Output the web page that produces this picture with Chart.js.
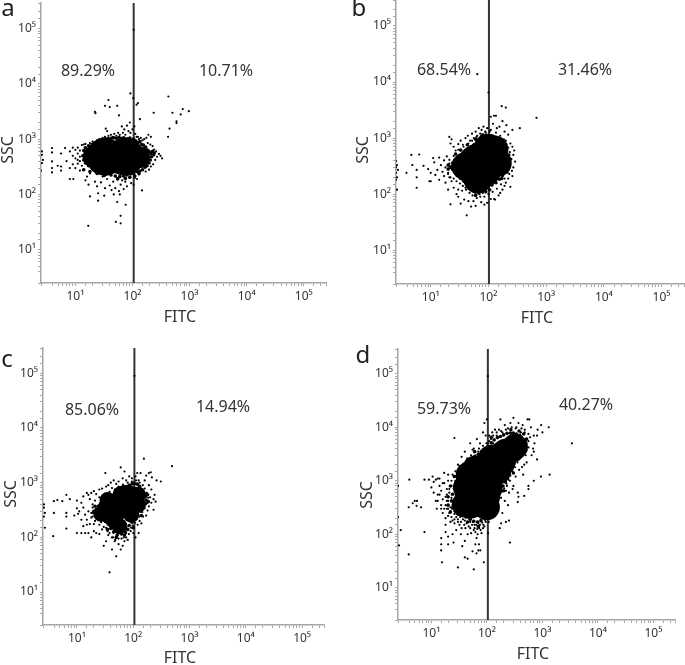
<!DOCTYPE html>
<html><head><meta charset="utf-8">
<script src="https://cdn.jsdelivr.net/npm/chart.js@4"></script>
<style>
html,body{margin:0;padding:0;background:#fff;width:685px;height:665px;overflow:hidden}
canvas{position:absolute;filter:blur(0.35px)}
</style></head><body>
<script>
const panelLetters = ['a','b','c','d'];
const negativeLabels = ['89.29%','68.54%','85.06%','59.73%'];
const positiveLabels = ['10.71%','31.46%','14.94%','40.27%'];
const xAxisTitle = 'FITC', yAxisTitle = 'SSC';
const decadeLabels = {1:'10¹',2:'10²',3:'10³',4:'10⁴',5:'10⁵'};
const axisRange = {xMin:2.5,xMax:245000,yMin:2.5,yMax:290000};
const gateValues = [105,102,105,104];

const denseLargeA = [[33,480],[74,480]];
const denseSmallA = [[21,480],[130,470]];
const edgeA = [[14,620],[15,700],[17,760],[20,800],[23,860],[26,900],[29,950],[33,1000],[37,1020],[42,1040],[47,1060],[52,1040],[58,1080],[64,1030],[70,1060],[76,1000],[83,1010],[90,1050],[97,950],[105,1000],[115,920],[125,860],[135,900],[145,800],[155,780],[170,720],[180,640],[195,600],[210,550],[215,480],[205,420],[195,370],[180,330],[165,310],[150,280],[135,265],[120,260],[105,240],[92,235],[80,225],[70,215],[60,210],[50,215],[42,225],[35,235],[30,260],[25,280],[21,290],[17,330],[15,370],[14,420],[13.5,500],[14,280],[18,260],[24,240],[32,220],[55,190],[75,195],[90,205],[110,215],[130,240],[225,600],[235,520],[240,560]];
const scatterA = [[105,95000],[92,6700],[103,5500],[125,4500],[118,4200],[425,5900],[38,5100],[33,4000],[54,4000],[40,3800],[22,3100],[22.5,2950],[58,2700],[235,3000],[500,3000],[590,2100],[590,1950],[760,3500],[700,2800],[970,3200],[445,1550],[420,1100],[135,2300],[34,1550],
[2.6,600],[2.6,520],[2.7,420],[2.6,370],[2.5,270],[3.9,690],[3.9,575],[3.9,395],[3.9,300],[3.9,250],[4.9,330],[5.6,550],[5.6,320],[5.6,270],[6.6,690],[8,190],[9.2,190],
[16.8,27],[51,32],[62,30],[62,41],[76,65],[54,73],[25,77],[147,118],[18,92],
[14,800],[15,820],[18,850],[20,900],[24,950],[26,1000],[30,1050],[33,1100],[36,1400],[38,1150],[42,1200],[45,1100],[48,1250],[52,1150],[56,1300],[60,1200],[65,1700],[68,1300],[72,1500],[75,1200],[80,1750],[85,1400],[90,2000],[92,1300],[100,1500],[108,1700],[112,1250],[118,1100],[125,1100],[130,1000],[140,1050],[150,950],[160,1000],[175,1050],[190,1200],[210,1100],[185,850],[205,800],[225,750],[240,650],[260,600],[290,540],[310,500],[330,450],[270,480],[250,420],[230,350],[210,320],[195,280],[170,260],
[22,170],[24,140],[28,165],[30,210],[33,130],[36,190],[40,145],[43,120],[46,170],[50,130],[54,200],[58,115],[62,150],[66,180],[70,125],[75,170],[80,140],[88,200],[95,160],[105,150],[110,200],[120,190],[130,230],[18,240],[15,180],[16,210],[17,150],[25,105],[32,95],[47,100],[60,100],
[7,400],[8,600],[8,300],[9,500],[9,700],[9,350],[10,450],[10,300],[10,640],[11,420],[11,550],[11,360],[11,700],[12,480],[12,270],[12,620],[12,400],[13,330],[13,780]];

const denseLargeB = [[70,314]];
const denseSmallB = [[127,625],[145,360],[40,314],[65,181],[97,670]];
const edgeB = [[23,310],[24,360],[26,400],[29,440],[32,470],[36,520],[40,600],[45,640],[50,700],[56,760],[62,800],[70,860],[78,900],[86,1000],[95,1050],[105,1100],[115,1100],[125,1050],[135,1000],[150,950],[165,850],[180,760],[195,640],[205,540],[210,450],[205,380],[200,310],[190,250],[175,215],[155,185],[135,160],[115,145],[95,130],[80,115],[68,105],[58,110],[50,125],[44,145],[38,170],[33,190],[29,215],[26,245],[24,275],[22,300],[20,330],[20,280],[27,520],[33,610],[43,760],[60,950],[80,1150],[225,500],[230,400],[220,300],[170,190],[105,120],[90,110],[60,95]];
const scatterB = [[64,13800],[100,6500],[21,1050],[23,950],[22,800],[25,700],[27,600],[30,780],[33,900],[36,760],[40,1000],[44,1100],[48,900],[52,1200],[56,1000],[60,1300],[64,1100],[68,1500],[72,1200],[76,1400],[82,1600],[88,1300],[95,1500],[105,1300],[110,2400],[125,2500],[135,2500],[120,1800],[140,1500],[155,1600],[175,2000],[190,1300],[205,1700],[220,1150],[260,1400],[350,1500],[680,2300],[170,3700],[200,3500],
[200,900],[240,800],[260,700],[280,600],[270,500],[250,420],[290,380],[270,300],[255,260],[230,230],[260,210],[220,190],[200,160],[190,140],[240,135],[175,120],[160,105],
[150,95],[125,82],[110,82],[130,80],[95,70],[85,65],[75,72],[60,62],[55,75],[50,60],[42,42],[45,75],[38,80],[33,68],[30,90],[22,66],[28,100],[25,130],[20,120],[30,120],[35,115],[40,130],[55,110],[70,100],[80,105],
[2.5,390],[2.6,330],[2.5,300],[2.7,270],[2.5,240],[2.6,200],[2.5,180],[2.6,120],[3.8,240],[4.6,500],[4.8,330],[6.3,510],[7.5,320],[5.7,270],[5.7,200],[5.7,130],[9,280],[9.5,170],[10,240],[10,170],[11,440],[11.5,370],[12,220],[13,270],[14,450],[14,180],[15,330],[16,250],[17,400],[17,210],[18,300],[18,160],[19,470],[20,240],[21,350],[21,200],[23,170],
[20,230],[22,200],[25,190],[28,170],[32,155],[36,140],[41,120],[47,105],[53,95],[63,85],[72,90],[85,90],[100,100],[118,110],[140,125],[165,150],[190,190],[215,240],[235,320],[240,430],[235,560],[220,680],[205,780],[185,950],[160,1100],[135,1250],[110,1400],[90,1250],[75,1100],[62,1050],[52,900],[45,800],[37,700],[30,620],[25,480],[21,410]];

const denseLargeC = [[47,345],[86,490]];
const denseSmallC = [[32,345],[122,600],[70,645],[57,160],[47,197],[92,260],[122,398],[27,270],[38,240],[35,480],[60,620]];
const edgeC = [[22,320],[24,370],[27,420],[31,470],[35,530],[40,570],[46,620],[52,680],[60,750],[68,800],[76,850],[85,900],[95,950],[105,960],[118,940],[130,860],[142,750],[155,640],[165,560],[170,480],[165,410],[150,350],[135,300],[120,260],[105,220],[95,190],[85,165],[80,140],[72,125],[62,115],[52,110],[45,125],[40,145],[36,175],[32,200],[28,235],[25,260],[23,290],[20,300],[21,370],[180,600],[185,450],[140,250],[100,150],[70,110],[50,100],[35,140]];
const scatterC = [[105,90000],[16,600],[18,650],[20,700],[22,620],[25,750],[28,780],[32,1500],[33,850],[36,900],[40,1000],[42,800],[45,1100],[50,950],[55,1050],[60,1900],[65,1200],[70,1600],[75,1100],[85,1300],[95,1200],[100,1000],[110,1300],[118,1500],[125,1100],[135,1500],[155,2750],[160,1100],[170,1350],[190,1500],[205,1550],[215,1250],[260,1100],[310,1050],[490,2000],
[190,900],[210,750],[240,600],[200,540],[230,500],[250,450],[210,430],[190,370],[230,320],[180,310],[170,250],[150,240],[140,180],[130,200],[120,170],
[125,120],[110,100],[100,120],[90,130],[80,90],[75,100],[70,85],[65,70],[60,60],[55,75],[50,45],[42,60],[38,23],[48,90],[44,100],[36,110],[33,85],[30,70],[35,130],[28,140],[25,115],[22,120],[20,130],[18,100],[16,120],[14,120],[12,120],[13,160],[15,170],[17,175],[20,175],[25,170],[10,120],
[2.6,400],[2.6,350],[2.7,280],[2.6,240],[2.7,150],[3.9,280],[3.8,105],[4.5,480],[3.9,460],[5.5,460],[6.5,600],[7.5,500],[6.5,280],[6.5,240],[6.5,145],[9,250],[10,470],[10,340],[10.5,270],[11,300],[12,210],[12,430],[13,560],[13,350],[14,260],[15,650],[15,210],[16,300],[17,500],[18,230],[19,400],[19,280],[21,200],[22,320],
[19,240],[23,250],[27,190],[30,155],[33,150],[38,120],[42,100],[47,85],[55,95],[62,95],[68,100],[75,120],[84,115],[92,150],[98,165],[108,185],[115,215],[128,240],[145,290],[160,340],[175,420],[185,530],[175,650],[160,780],[148,900],[130,1000],[112,1100],[95,1050],[80,1000],[66,920],[55,850],[47,750],[38,680],[30,600],[25,540],[21,470],[19,350],[18,280]];

const denseLargeD = [[68,571]];
const denseSmallD = [[47,1295],[99,1905],[170,2930],[280,3790],[156,1470],[112,740],[120,2700],[215,3500],[320,4300],[62,1700],[190,2200],[100,320],[50,340],[40,360],[42,750]];
const edgeD = [[24,310],[23,420],[24,560],[26,720],[28,900],[30,1100],[34,1400],[39,1700],[45,2000],[52,2400],[60,2800],[70,3100],[80,3500],[92,3900],[105,4400],[120,5100],[135,5800],[155,6400],[175,6700],[200,7200],[230,7700],[265,7800],[300,7800],[340,7500],[390,7100],[420,6300],[440,5400],[430,4500],[400,3700],[370,3100],[340,2500],[310,2100],[280,1700],[255,1400],[235,1150],[215,950],[195,800],[175,650],[155,520],[140,430],[125,350],[112,280],[100,230],[90,200],[78,180],[68,170],[58,175],[50,190],[42,210],[36,225],[30,240],[27,270],[22,260],[20,350],[20,500],[22,800],[26,1200],[500,5000],[520,6000],[460,7500],[380,8500],[270,9000],[120,6500],[60,3500],[300,1400],[200,650],[130,280],[70,140],[45,170]];
const scatterD = [[104,90000],[20,1000],[24,1300],[28,1200],[30,2000],[26,6300],[32,1600],[35,2800],[37,1400],[40,3500],[42,2000],[45,2600],[48,2300],[50,5000],[55,3800],[58,4000],[62,3000],[66,6000],[70,3500],[75,5000],[80,3500],[85,8000],[90,12000],[92,4000],[95,7000],[100,14000],[105,5000],[110,7000],[118,6000],[125,8000],[130,5000],[140,9000],[150,7000],[165,9000],[175,14000],[190,8000],[210,11000],[240,9500],[265,12000],[300,15000],[330,9500],[370,12000],[410,8000],[440,11000],[480,9000],[540,14000],[580,14000],[620,10000],[700,7000],[800,7000],[820,9000],[950,11000],[1000,8000],[1300,10000],[3400,5000],
[720,5000],[680,4000],[640,3000],[700,3500],[560,4200],[500,3000],[470,2000],[520,2200],[430,1800],[380,1600],[450,1300],[330,1200],[260,1000],[300,800],[230,800],[360,600],[370,500],[360,400],[290,700],[250,600],[220,650],[180,480],[210,420],[160,420],[140,280],[240,350],[190,250],[250,180],[220,170],[180,160],[170,130],[260,70],[940,1200],[1350,1300],[800,2500],[700,1000],[560,800],[560,700],[470,520],
[130,260],[120,200],[110,220],[105,105],[95,170],[90,140],[85,130],[80,105],[75,150],[72,65],[68,100],[65,85],[62,65],[58,120],[55,48],[58,22],[50,170],[45,35],[40,37],[45,100],[40,75],[35,130],[30,24],[36,60],[34,100],[30,170],[28,120],[25,70],[24,100],[20,90],[20,65],[18,110],[15,85],[15,65],[15,50],[15.5,30],[88,30],[76,50],[70,50],[65,44],[18,150],[22,170],[26,190],[33,210],[40,180],[48,200],[60,150],
[2.5,800],[2.5,210],[2.8,120],[2.6,62],[3.9,42],[4,1050],[3.9,320],[5,420],[4.6,380],[5.5,420],[5.4,340],[6.5,320],[7.5,1050],[7.5,110],[9,1050],[10.5,1200],[11,950],[10,750],[12,1050],[13,1100],[12,420],[12.5,300],[13,550],[14,800],[15,650],[15,350],[16,250],[17,1400],[17,900],[18,500],[18,200],[19,700],[19,300],[20,420],[21,600],[22,270],[23,480],[24,350],[25,800],[26,240],[20,220],[27,1000],[28,600],
[17,300],[18,350],[19,420],[20,300],[21,250],[22,320],[23,210],[24,180],[26,160],[28,210],[30,190],[32,150],[34,170],[37,190],[39,150],[41,130],[43,160],[47,140],[50,130],[52,105],[54,150],[56,170],[60,130],[62,110],[64,150],[67,125],[70,160],[73,130],[77,120],[82,165],[86,150],[92,185],[98,205],[103,195],[108,170],[115,240],[128,300],[138,340],[148,400],[158,470],[168,560],[185,620],[205,720],[225,880],[245,1050],[265,1250],[290,1500],[320,1800],[355,2200],[390,2800],[415,3400],[460,4000],[480,4700],[520,3700],[560,5500],[600,6500],[560,7500],[480,8000],[420,9500],[340,10000],[280,10000],[220,9000],[180,8500],[150,8000],[130,7000],[110,5500],[98,5000],[85,4500],[72,4000],[62,3500],[52,3000],[44,2600],[38,2100],[32,1900],[27,1500],[23,1000],[21,700],[19,550],[16,450],[15,300],[14,550],[13,420],[11,600],[16,900],[20,1300],[14,1100]];

const panels = [
 {large:denseLargeA,small:denseSmallA,edge:edgeA,scatter:scatterA,rL:19,rS:11,
  box:{l:0,t:0,w:340,h:332},area:{l:41,t:3,r:326,b:283},xT:[180,317],yT:[8,150],
  letter:[8,9],neg:[88,71],pos:[226,71]},
 {large:denseLargeB,small:denseSmallB,edge:edgeB,scatter:scatterB,rL:23,rS:14,
  box:{l:345,t:0,w:340,h:332},area:{l:396,t:0,r:684,b:284},xT:[537,318],yT:[363,150],
  letter:[359,9],neg:[444,70],pos:[585,70]},
 {large:denseLargeC,small:denseSmallC,edge:edgeC,scatter:scatterC,rL:14,rS:8,
  box:{l:0,t:335,w:340,h:330},area:{l:43,t:348,r:324,b:625},xT:[180,658],yT:[11,494],
  letter:[7,360],neg:[92,410],pos:[223,407]},
 {large:denseLargeD,small:denseSmallD,edge:edgeD,scatter:scatterD,rL:23,rS:13,
  box:{l:345,t:335,w:340,h:330},area:{l:398,t:349,r:675,b:620},xT:[533,654],yT:[367,495],
  letter:[363,356],neg:[444,409],pos:[586,405]}
];

const textInk = '#333', axisInk = '#a6a6a6', fontFamily = '"Noto Sans", sans-serif';

function tickText(v){
  const e = Math.round(Math.log10(v));
  return Math.abs(Math.pow(10,e)-v) < 1e-6*v && decadeLabels[e] ? decadeLabels[e] : '';
}
function shiftTitle(scale, tx, ty, horizontal){
  if(scale._titleShifted) return;
  scale._titleShifted = true;
  const orig = scale.drawTitle;
  scale.drawTitle = function(){
    const c = this.ctx;
    const lh = this.options.title.font.size*1.2;
    const dx = horizontal ? tx-(this.left+this.right)/2 : tx-(this.left+lh/2);
    const dy = horizontal ? ty-(this.bottom-lh/2) : ty-(this.top+this.bottom)/2;
    c.save(); c.translate(dx,dy); orig.call(this); c.restore();
  };
}
const pctLabels = {
  id:'pctLabels',
  afterDraw(chart,args,o){
    const c = chart.ctx;
    c.save();
    c.fillStyle = textInk; c.textAlign='center'; c.textBaseline='middle';
    c.font = '16px '+fontFamily;
    c.fillText(o.neg,o.negAt[0],o.negAt[1]);
    c.fillText(o.pos,o.posAt[0],o.posAt[1]);
    c.fillStyle = '#222';
    c.font = '24px '+fontFamily;
    c.fillText(o.letter,o.letterAt[0],o.letterAt[1]);
    c.restore();
  }
};
panels.forEach((p,i)=>{
  const cv = document.createElement('canvas');
  cv.width = p.box.w; cv.height = p.box.h;
  cv.style.left = p.box.l+'px'; cv.style.top = p.box.t+'px';
  document.body.appendChild(cv);
  const yW = p.area.l-p.box.l, xH = p.box.t+p.box.h-p.area.b;
  const toPt = a => a.map(d=>({x:d[0],y:d[1]}));
  const markSet = (label,arr,r)=>({label,data:toPt(arr),pointRadius:r,pointBorderWidth:0,pointBackgroundColor:'#000',showLine:false,order:1});
  new Chart(cv,{
    type:'scatter',
    data:{datasets:[
      {label:'Gate',data:[{x:gateValues[i],y:axisRange.yMin},{x:gateValues[i],y:axisRange.yMax}],showLine:true,borderColor:'#333',borderWidth:2,pointRadius:0,order:2},
      markSet('Dense large',p.large,p.rL),
      markSet('Dense small',p.small,p.rS),
      markSet('Dense edge',p.edge,1.8),
      markSet('Events',p.scatter,1.1)
    ]},
    options:{
      responsive:false,animation:false,
      layout:{autoPadding:false,padding:{left:0,top:p.area.t-p.box.t,right:p.box.l+p.box.w-p.area.r,bottom:0}},
      plugins:{legend:{display:false},tooltip:{enabled:false},
        pctLabels:{neg:negativeLabels[i],pos:positiveLabels[i],letter:panelLetters[i],negAt:[p.neg[0]-p.box.l,p.neg[1]-p.box.t],posAt:[p.pos[0]-p.box.l,p.pos[1]-p.box.t],letterAt:[p.letter[0]-p.box.l,p.letter[1]-p.box.t]}},
      scales:{
        x:{type:'logarithmic',min:axisRange.xMin,max:axisRange.xMax,
          grid:{drawOnChartArea:false,color:axisInk,tickLength:3},
          border:{color:axisInk,width:1.5},
          ticks:{autoSkip:false,maxRotation:0,padding:3,color:textInk,font:{family:fontFamily,size:12},callback:tickText},
          title:{display:true,text:xAxisTitle,color:textInk,padding:0,font:{family:fontFamily,size:16}},
          afterFit(s){s.height=xH; s.paddingLeft=0; s.paddingRight=0; shiftTitle(s,p.xT[0]-p.box.l,p.xT[1]-p.box.t,true);}},
        y:{type:'logarithmic',min:axisRange.yMin,max:axisRange.yMax,
          grid:{drawOnChartArea:false,color:axisInk,tickLength:3},
          border:{color:axisInk,width:1.5},
          ticks:{autoSkip:false,padding:2,color:textInk,font:{family:fontFamily,size:12},callback:tickText},
          title:{display:true,text:yAxisTitle,color:textInk,padding:0,font:{family:fontFamily,size:16}},
          afterFit(s){s.width=yW; s.paddingTop=0; s.paddingBottom=0; shiftTitle(s,p.yT[0]-p.box.l,p.yT[1]-p.box.t,false);}}
      }
    },
    plugins:[pctLabels]
  });
});
</script></body></html>
